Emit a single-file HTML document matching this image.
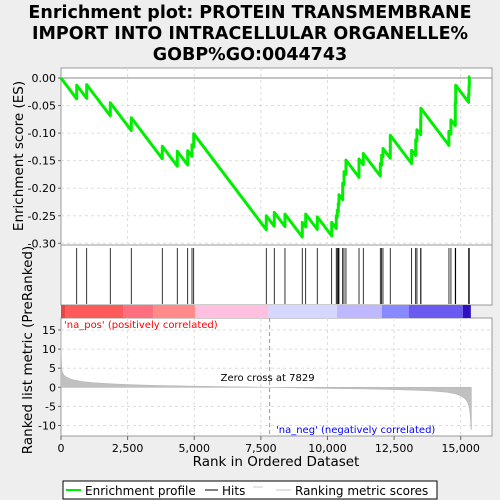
<!DOCTYPE html>
<html><head><meta charset="utf-8"><style>
body{margin:0;background:#eeeeee;}
svg{display:block;font-family:"DejaVu Sans","Liberation Sans",sans-serif;}
</style></head><body>
<svg id="c" width="500" height="500" xmlns="http://www.w3.org/2000/svg">
<rect x="0" y="0" width="500" height="500" fill="#eeeeee"/>
<g font-weight="bold" font-size="17.5" text-anchor="middle" fill="#000">
<text x="250" y="18">Enrichment plot: PROTEIN TRANSMEMBRANE</text>
<text x="250" y="39">IMPORT INTO INTRACELLULAR ORGANELLE%</text>
<text x="250" y="60">GOBP%GO:0044743</text>
</g>
</svg>
<script>
const esTicks=[0,-0.05,-0.1,-0.15,-0.2,-0.25,-0.3];
const esTickLabels=["0.00","-0.05","-0.10","-0.15","-0.20","-0.25","-0.30"];
const metricTicks=[15,10,5,0,-5,-10];
const rankTicks=[0,2500,5000,7500,10000,12500,15000];
const rankTickLabels=["0","2,500","5,000","7,500","10,000","12,500","15,000"];
const hitRanks=[589,964,1850,2638,3801,4364,4754,4916,4979,7704,8004,8405,9054,9182,9617,10157,10330,10368,10405,10432,10570,10619,10694,11184,11345,11983,12033,12083,12357,13159,13310,13358,13497,13508,14559,14634,14796,14811,15298,15310,15321];
const esAfterHit=[-0.013,-0.012,-0.045,-0.072,-0.124,-0.133,-0.132,-0.121,-0.101,-0.250,-0.244,-0.247,-0.262,-0.247,-0.252,-0.262,-0.250,-0.240,-0.228,-0.212,-0.191,-0.170,-0.149,-0.147,-0.137,-0.155,-0.140,-0.128,-0.104,-0.131,-0.112,-0.094,-0.075,-0.055,-0.097,-0.076,-0.045,-0.013,-0.030,-0.015,0.002];
const missSlope=0.000064;
const totalRanks=15400;
const zeroCross=7829;
const metricRanks=[0,10,30,60,120,200,350,500,800,1200,1800,2500,3500,5000,6500,7829,9000,10000,11500,12500,13500,14000,14500,14800,15000,15150,15250,15320,15360,15385,15400];
const metricValues=[15,8,4.8,3.8,3.1,2.7,2.2,1.9,1.5,1.2,0.95,0.7,0.5,0.3,0.12,0,-0.15,-0.3,-0.45,-0.6,-0.8,-1.0,-1.3,-1.7,-2.2,-2.9,-3.8,-5.2,-7.5,-11,-11];

const svg=document.getElementById('c');
const NS='http://www.w3.org/2000/svg';
const L=61,R=492;
const xs=r=>L+r*(399.7/15000);
function yE(v){return 78-v*551;}
function yM(v){return 387.3-v*3.82;}
function mk(tag,attrs,parent){const e=document.createElementNS(NS,tag);for(const k in attrs)e.setAttribute(k,attrs[k]);(parent||svg).appendChild(e);return e;}

const p1=mk('rect',{x:L,y:68,width:R-L,height:177,fill:'#fff',stroke:'#999'});


const p2=mk('rect',{x:L,y:245,width:R-L,height:60,fill:'#fff',stroke:'#999'});


const p3=mk('rect',{x:L,y:318,width:R-L,height:118,fill:'#fff',stroke:'#999'});



rankTicks.forEach(r=>{
  if(r===0)return;
  const g1=mk('line',{x1:xs(r),x2:xs(r),y1:68,y2:245,stroke:'#ddd','stroke-dasharray':'3,3'});
  
  
  const g2=mk('line',{x1:xs(r),x2:xs(r),y1:318,y2:436,stroke:'#ddd','stroke-dasharray':'3,3'});
  
  
});
esTicks.forEach((v,i)=>{
  const y=yE(v);
  if(v!==0){const g=mk('line',{x1:L,x2:R,y1:y,y2:y,stroke:'#ddd','stroke-dasharray':'3,3'});
  
  }
  const t=mk('line',{x1:L-3,x2:L,y1:y,y2:y,stroke:'#666'});
  
  
  const tx=mk('text',{x:L-5,y:y+4,'text-anchor':'end','font-size':'11',fill:'#000'});
  tx.textContent=esTickLabels[i];
  
  
});
const zl=mk('line',{x1:L,x2:R,y1:yE(0),y2:yE(0),stroke:'#888','stroke-width':1});


metricTicks.forEach(v=>{
  const y=yM(v);
  if(v!==0){const g=mk('line',{x1:L,x2:R,y1:y,y2:y,stroke:'#ddd','stroke-dasharray':'3,3'});
  
  }
  const t=mk('line',{x1:L-3,x2:L,y1:y,y2:y,stroke:'#666'});
  
  
  const tx=mk('text',{x:L-5,y:y+4,'text-anchor':'end','font-size':'11',fill:'#000'});
  tx.textContent=String(v);
  
  
});
rankTicks.forEach((r,i)=>{
  const t=mk('line',{x1:xs(r),x2:xs(r),y1:436,y2:440,stroke:'#666'});
  
  
  const tx=mk('text',{x:xs(r),y:452,'text-anchor':'middle','font-size':'11',fill:'#000'});
  tx.textContent=rankTickLabels[i];
  
  
});

let pts=[[0,0]];let prevR=0,prevE=0;
hitRanks.forEach((r,i)=>{
  const before=prevE-missSlope*(r-prevR);
  pts.push([r,before]);pts.push([r,esAfterHit[i]]);
  prevR=r;prevE=esAfterHit[i];
});
pts.push([prevR+30,prevE]);
const es=mk('polyline',{points:pts.map(p=>xs(p[0]).toFixed(1)+','+yE(p[1]).toFixed(1)).join(' '),fill:'none',stroke:'#00ee00','stroke-width':3,'stroke-linejoin':'round'});



hitRanks.forEach(r=>{
  const h=mk('line',{x1:xs(r),x2:xs(r),y1:248,y2:304,stroke:'#000','stroke-width':0.8});
  
  
});

const segs=[[0,150,'#e84545'],[150,2330,'#ff5a5a'],[2330,3460,'#ff6f80'],[3460,5030,'#ff8a8a'],[5030,7780,'#ffc0e0'],[7780,10360,'#d6d6ff'],[10360,12040,'#c0b8ff'],[12040,13060,'#8888ff'],[13060,15080,'#6a5af0'],[15080,15380,'#3010c0']];
segs.forEach(s=>{
  const b=mk('rect',{x:xs(s[0]),y:305,width:xs(s[1])-xs(s[0]),height:13,fill:s[2]});
  
  
});

let mp='M'+xs(0)+','+yM(0);
metricRanks.forEach((r,i)=>{mp+=' L'+xs(r).toFixed(1)+','+yM(metricValues[i]).toFixed(1);});
mp+=' L'+xs(totalRanks)+','+yM(0)+' Z';
const ma=mk('path',{d:mp,fill:'#c0c0c0',stroke:'#b8b8b8','stroke-width':0.6});


const zc=mk('line',{x1:xs(zeroCross),x2:xs(zeroCross),y1:318,y2:436,stroke:'#999','stroke-dasharray':'4,3'});


const zt=mk('text',{x:xs(zeroCross)-2,y:381,'text-anchor':'middle','font-size':'10',fill:'#000'});
zt.textContent='Zero cross at '+zeroCross;


const pl=mk('text',{x:64,y:328,'font-size':'10',fill:'#ff0000'});
pl.textContent="'na_pos' (positively correlated)";


const nl=mk('text',{x:276,y:433,'font-size':'10',fill:'#0000ff'});
nl.textContent="'na_neg' (negatively correlated)";



const yt1=mk('text',{x:0,y:0,'text-anchor':'middle','font-size':'13.5',fill:'#000',transform:'translate(23,156) rotate(-90)'});
yt1.textContent='Enrichment score (ES)';


const yt2=mk('text',{x:0,y:0,'text-anchor':'middle','font-size':'13.5',fill:'#000',transform:'translate(32,350) rotate(-90)'});
yt2.textContent='Ranked list metric (PreRanked)';


const xt=mk('text',{x:276,y:466,'text-anchor':'middle','font-size':'13.5',fill:'#000'});
xt.textContent='Rank in Ordered Dataset';



const lg=mk('g',{});


mk('rect',{x:63,y:481,width:374,height:18,fill:'#fff',stroke:'#000'},lg);
mk('line',{x1:66,x2:81,y1:490,y2:490,stroke:'#00ee00','stroke-width':2},lg);
const l1=mk('text',{x:85,y:495,'font-size':'12',fill:'#000'},lg);l1.textContent='Enrichment profile';


mk('line',{x1:205,x2:218,y1:490,y2:490,stroke:'#000','stroke-width':1},lg);
const l2=mk('text',{x:222,y:495,'font-size':'12',fill:'#000'},lg);l2.textContent='Hits';


mk('line',{x1:253,x2:263,y1:487,y2:487,stroke:'#ccc'},lg);
mk('line',{x1:276,x2:291,y1:490,y2:490,stroke:'#c0c0c0','stroke-width':1},lg);
const l3=mk('text',{x:295,y:495,'font-size':'12',fill:'#000'},lg);l3.textContent='Ranking metric scores';


</script>
</body></html>
